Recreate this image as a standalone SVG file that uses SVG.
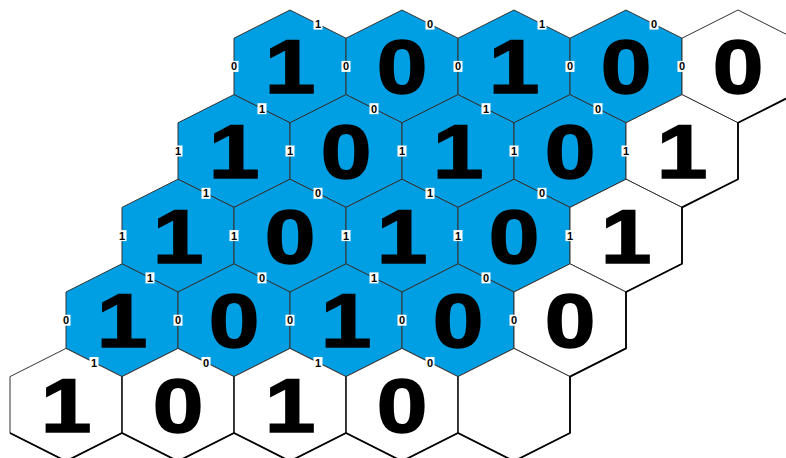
<svg xmlns="http://www.w3.org/2000/svg" xmlns:xlink="http://www.w3.org/1999/xlink" width="786" height="458" viewBox="0 0 786 458">
  <style>
    .cell { stroke: #333; stroke-width: 1; stroke-linejoin: miter; }
    .blue { fill: #009FE3; }
    .white { fill: #ffffff; }
    .big { font-family: "Liberation Sans", Arial, sans-serif; font-weight: bold; font-size: 76px; fill: #000; stroke: #000; stroke-width: 1.5; text-anchor: middle; }
    .bit text { font-family: "Liberation Sans", Arial, sans-serif; font-weight: bold; font-size: 11px; fill: #000; text-anchor: middle; }
    .rim { fill: none; stroke: #000; stroke-width: 1.8; stroke-linejoin: miter; }
  </style>
  <defs>
    <!-- flattened hexagon, 112 wide, 112.8 tall, centred on the origin -->
    <polygon id="hex" class="cell" points="0,-56.4 56,-28.2 56,28.2 0,56.4 -56,28.2 -56,-28.2"/>
    <!-- white tag behind an edge bit -->
    <rect id="bitbox" x="-4.5" y="-5.5" width="9" height="11" fill="#ffffff"/>
  </defs>
  <rect width="786" height="458" fill="#ffffff"/>

  <!-- row 0 -->
  <g id="h-0-0" transform="translate(290,66.4)"><use xlink:href="#hex" class="blue"/><text class="big" y="27" transform="scale(1.2,1)">1</text></g>
  <g id="h-0-1" transform="translate(402,66.4)"><use xlink:href="#hex" class="blue"/><text class="big" y="27" transform="scale(1.2,1)">0</text></g>
  <g id="h-0-2" transform="translate(514,66.4)"><use xlink:href="#hex" class="blue"/><text class="big" y="27" transform="scale(1.2,1)">1</text></g>
  <g id="h-0-3" transform="translate(626,66.4)"><use xlink:href="#hex" class="blue"/><text class="big" y="27" transform="scale(1.2,1)">0</text></g>
  <g id="h-0-4" transform="translate(738,66.4)"><use xlink:href="#hex" class="white"/><text class="big" y="27" transform="scale(1.2,1)">0</text></g>

  <!-- row 1 -->
  <g id="h-1-0" transform="translate(234,151)"><use xlink:href="#hex" class="blue"/><text class="big" y="27" transform="scale(1.2,1)">1</text></g>
  <g id="h-1-1" transform="translate(346,151)"><use xlink:href="#hex" class="blue"/><text class="big" y="27" transform="scale(1.2,1)">0</text></g>
  <g id="h-1-2" transform="translate(458,151)"><use xlink:href="#hex" class="blue"/><text class="big" y="27" transform="scale(1.2,1)">1</text></g>
  <g id="h-1-3" transform="translate(570,151)"><use xlink:href="#hex" class="blue"/><text class="big" y="27" transform="scale(1.2,1)">0</text></g>
  <g id="h-1-4" transform="translate(682,151)"><use xlink:href="#hex" class="white"/><text class="big" y="27" transform="scale(1.2,1)">1</text></g>

  <!-- row 2 -->
  <g id="h-2-0" transform="translate(178,235.6)"><use xlink:href="#hex" class="blue"/><text class="big" y="27" transform="scale(1.2,1)">1</text></g>
  <g id="h-2-1" transform="translate(290,235.6)"><use xlink:href="#hex" class="blue"/><text class="big" y="27" transform="scale(1.2,1)">0</text></g>
  <g id="h-2-2" transform="translate(402,235.6)"><use xlink:href="#hex" class="blue"/><text class="big" y="27" transform="scale(1.2,1)">1</text></g>
  <g id="h-2-3" transform="translate(514,235.6)"><use xlink:href="#hex" class="blue"/><text class="big" y="27" transform="scale(1.2,1)">0</text></g>
  <g id="h-2-4" transform="translate(626,235.6)"><use xlink:href="#hex" class="white"/><text class="big" y="27" transform="scale(1.2,1)">1</text></g>

  <!-- row 3 -->
  <g id="h-3-0" transform="translate(122,320.2)"><use xlink:href="#hex" class="blue"/><text class="big" y="27" transform="scale(1.2,1)">1</text></g>
  <g id="h-3-1" transform="translate(234,320.2)"><use xlink:href="#hex" class="blue"/><text class="big" y="27" transform="scale(1.2,1)">0</text></g>
  <g id="h-3-2" transform="translate(346,320.2)"><use xlink:href="#hex" class="blue"/><text class="big" y="27" transform="scale(1.2,1)">1</text></g>
  <g id="h-3-3" transform="translate(458,320.2)"><use xlink:href="#hex" class="blue"/><text class="big" y="27" transform="scale(1.2,1)">0</text></g>
  <g id="h-3-4" transform="translate(570,320.2)"><use xlink:href="#hex" class="white"/><text class="big" y="27" transform="scale(1.2,1)">0</text></g>

  <!-- row 4 -->
  <g id="h-4-0" transform="translate(66,404.8)"><use xlink:href="#hex" class="white"/><text class="big" y="27" transform="scale(1.2,1)">1</text></g>
  <g id="h-4-1" transform="translate(178,404.8)"><use xlink:href="#hex" class="white"/><text class="big" y="27" transform="scale(1.2,1)">0</text></g>
  <g id="h-4-2" transform="translate(290,404.8)"><use xlink:href="#hex" class="white"/><text class="big" y="27" transform="scale(1.2,1)">1</text></g>
  <g id="h-4-3" transform="translate(402,404.8)"><use xlink:href="#hex" class="white"/><text class="big" y="27" transform="scale(1.2,1)">0</text></g>
  <g id="h-4-4" transform="translate(514,404.8)"><use xlink:href="#hex" class="white"/></g>

  <!-- heavier outline along the right and bottom rim of the grid -->
  <g id="connectors">
    <path class="rim" d="M794,94.6 L738,122.8 L738,179.2 L682,207.4 L682,263.8 L626,292 L626,348.4 L570,376.6 L570,433 L514,461.2 L458,433 L402,461.2 L346,433 L290,461.2 L234,433 L178,461.2 L122,433 L66,461.2 L10,433"/>
    <path fill="none" stroke="#111" stroke-width="1.3" d="M122,376.6 V433 M234,376.6 V433 M346,376.6 V433 M458,376.6 V433"/>
  </g>

  <!-- edge bits -->
  <g id="bits" class="bit">
    <!-- row 0 -->
    <g transform="translate(234,66.4)"><use xlink:href="#bitbox"/><text y="4">0</text></g>
    <g transform="translate(346,66.4)"><use xlink:href="#bitbox"/><text y="4">0</text></g>
    <g transform="translate(458,66.4)"><use xlink:href="#bitbox"/><text y="4">0</text></g>
    <g transform="translate(570,66.4)"><use xlink:href="#bitbox"/><text y="4">0</text></g>
    <g transform="translate(682,66.4)"><use xlink:href="#bitbox"/><text y="4">0</text></g>
    <g transform="translate(318,24.1)"><use xlink:href="#bitbox"/><text y="4">1</text></g>
    <g transform="translate(430,24.1)"><use xlink:href="#bitbox"/><text y="4">0</text></g>
    <g transform="translate(542,24.1)"><use xlink:href="#bitbox"/><text y="4">1</text></g>
    <g transform="translate(654,24.1)"><use xlink:href="#bitbox"/><text y="4">0</text></g>
    <!-- row 1 -->
    <g transform="translate(178,151)"><use xlink:href="#bitbox"/><text y="4">1</text></g>
    <g transform="translate(290,151)"><use xlink:href="#bitbox"/><text y="4">1</text></g>
    <g transform="translate(402,151)"><use xlink:href="#bitbox"/><text y="4">1</text></g>
    <g transform="translate(514,151)"><use xlink:href="#bitbox"/><text y="4">1</text></g>
    <g transform="translate(626,151)"><use xlink:href="#bitbox"/><text y="4">1</text></g>
    <g transform="translate(262,108.7)"><use xlink:href="#bitbox"/><text y="4">1</text></g>
    <g transform="translate(374,108.7)"><use xlink:href="#bitbox"/><text y="4">0</text></g>
    <g transform="translate(486,108.7)"><use xlink:href="#bitbox"/><text y="4">1</text></g>
    <g transform="translate(598,108.7)"><use xlink:href="#bitbox"/><text y="4">0</text></g>
    <!-- row 2 -->
    <g transform="translate(122,235.6)"><use xlink:href="#bitbox"/><text y="4">1</text></g>
    <g transform="translate(234,235.6)"><use xlink:href="#bitbox"/><text y="4">1</text></g>
    <g transform="translate(346,235.6)"><use xlink:href="#bitbox"/><text y="4">1</text></g>
    <g transform="translate(458,235.6)"><use xlink:href="#bitbox"/><text y="4">1</text></g>
    <g transform="translate(570,235.6)"><use xlink:href="#bitbox"/><text y="4">1</text></g>
    <g transform="translate(206,193.3)"><use xlink:href="#bitbox"/><text y="4">1</text></g>
    <g transform="translate(318,193.3)"><use xlink:href="#bitbox"/><text y="4">0</text></g>
    <g transform="translate(430,193.3)"><use xlink:href="#bitbox"/><text y="4">1</text></g>
    <g transform="translate(542,193.3)"><use xlink:href="#bitbox"/><text y="4">0</text></g>
    <!-- row 3 -->
    <g transform="translate(66,320.2)"><use xlink:href="#bitbox"/><text y="4">0</text></g>
    <g transform="translate(178,320.2)"><use xlink:href="#bitbox"/><text y="4">0</text></g>
    <g transform="translate(290,320.2)"><use xlink:href="#bitbox"/><text y="4">0</text></g>
    <g transform="translate(402,320.2)"><use xlink:href="#bitbox"/><text y="4">0</text></g>
    <g transform="translate(514,320.2)"><use xlink:href="#bitbox"/><text y="4">0</text></g>
    <g transform="translate(150,277.9)"><use xlink:href="#bitbox"/><text y="4">1</text></g>
    <g transform="translate(262,277.9)"><use xlink:href="#bitbox"/><text y="4">0</text></g>
    <g transform="translate(374,277.9)"><use xlink:href="#bitbox"/><text y="4">1</text></g>
    <g transform="translate(486,277.9)"><use xlink:href="#bitbox"/><text y="4">0</text></g>
    <!-- row 4 -->
    <g transform="translate(94,362.5)"><use xlink:href="#bitbox"/><text y="4">1</text></g>
    <g transform="translate(206,362.5)"><use xlink:href="#bitbox"/><text y="4">0</text></g>
    <g transform="translate(318,362.5)"><use xlink:href="#bitbox"/><text y="4">1</text></g>
    <g transform="translate(430,362.5)"><use xlink:href="#bitbox"/><text y="4">0</text></g>
  </g>
</svg>
